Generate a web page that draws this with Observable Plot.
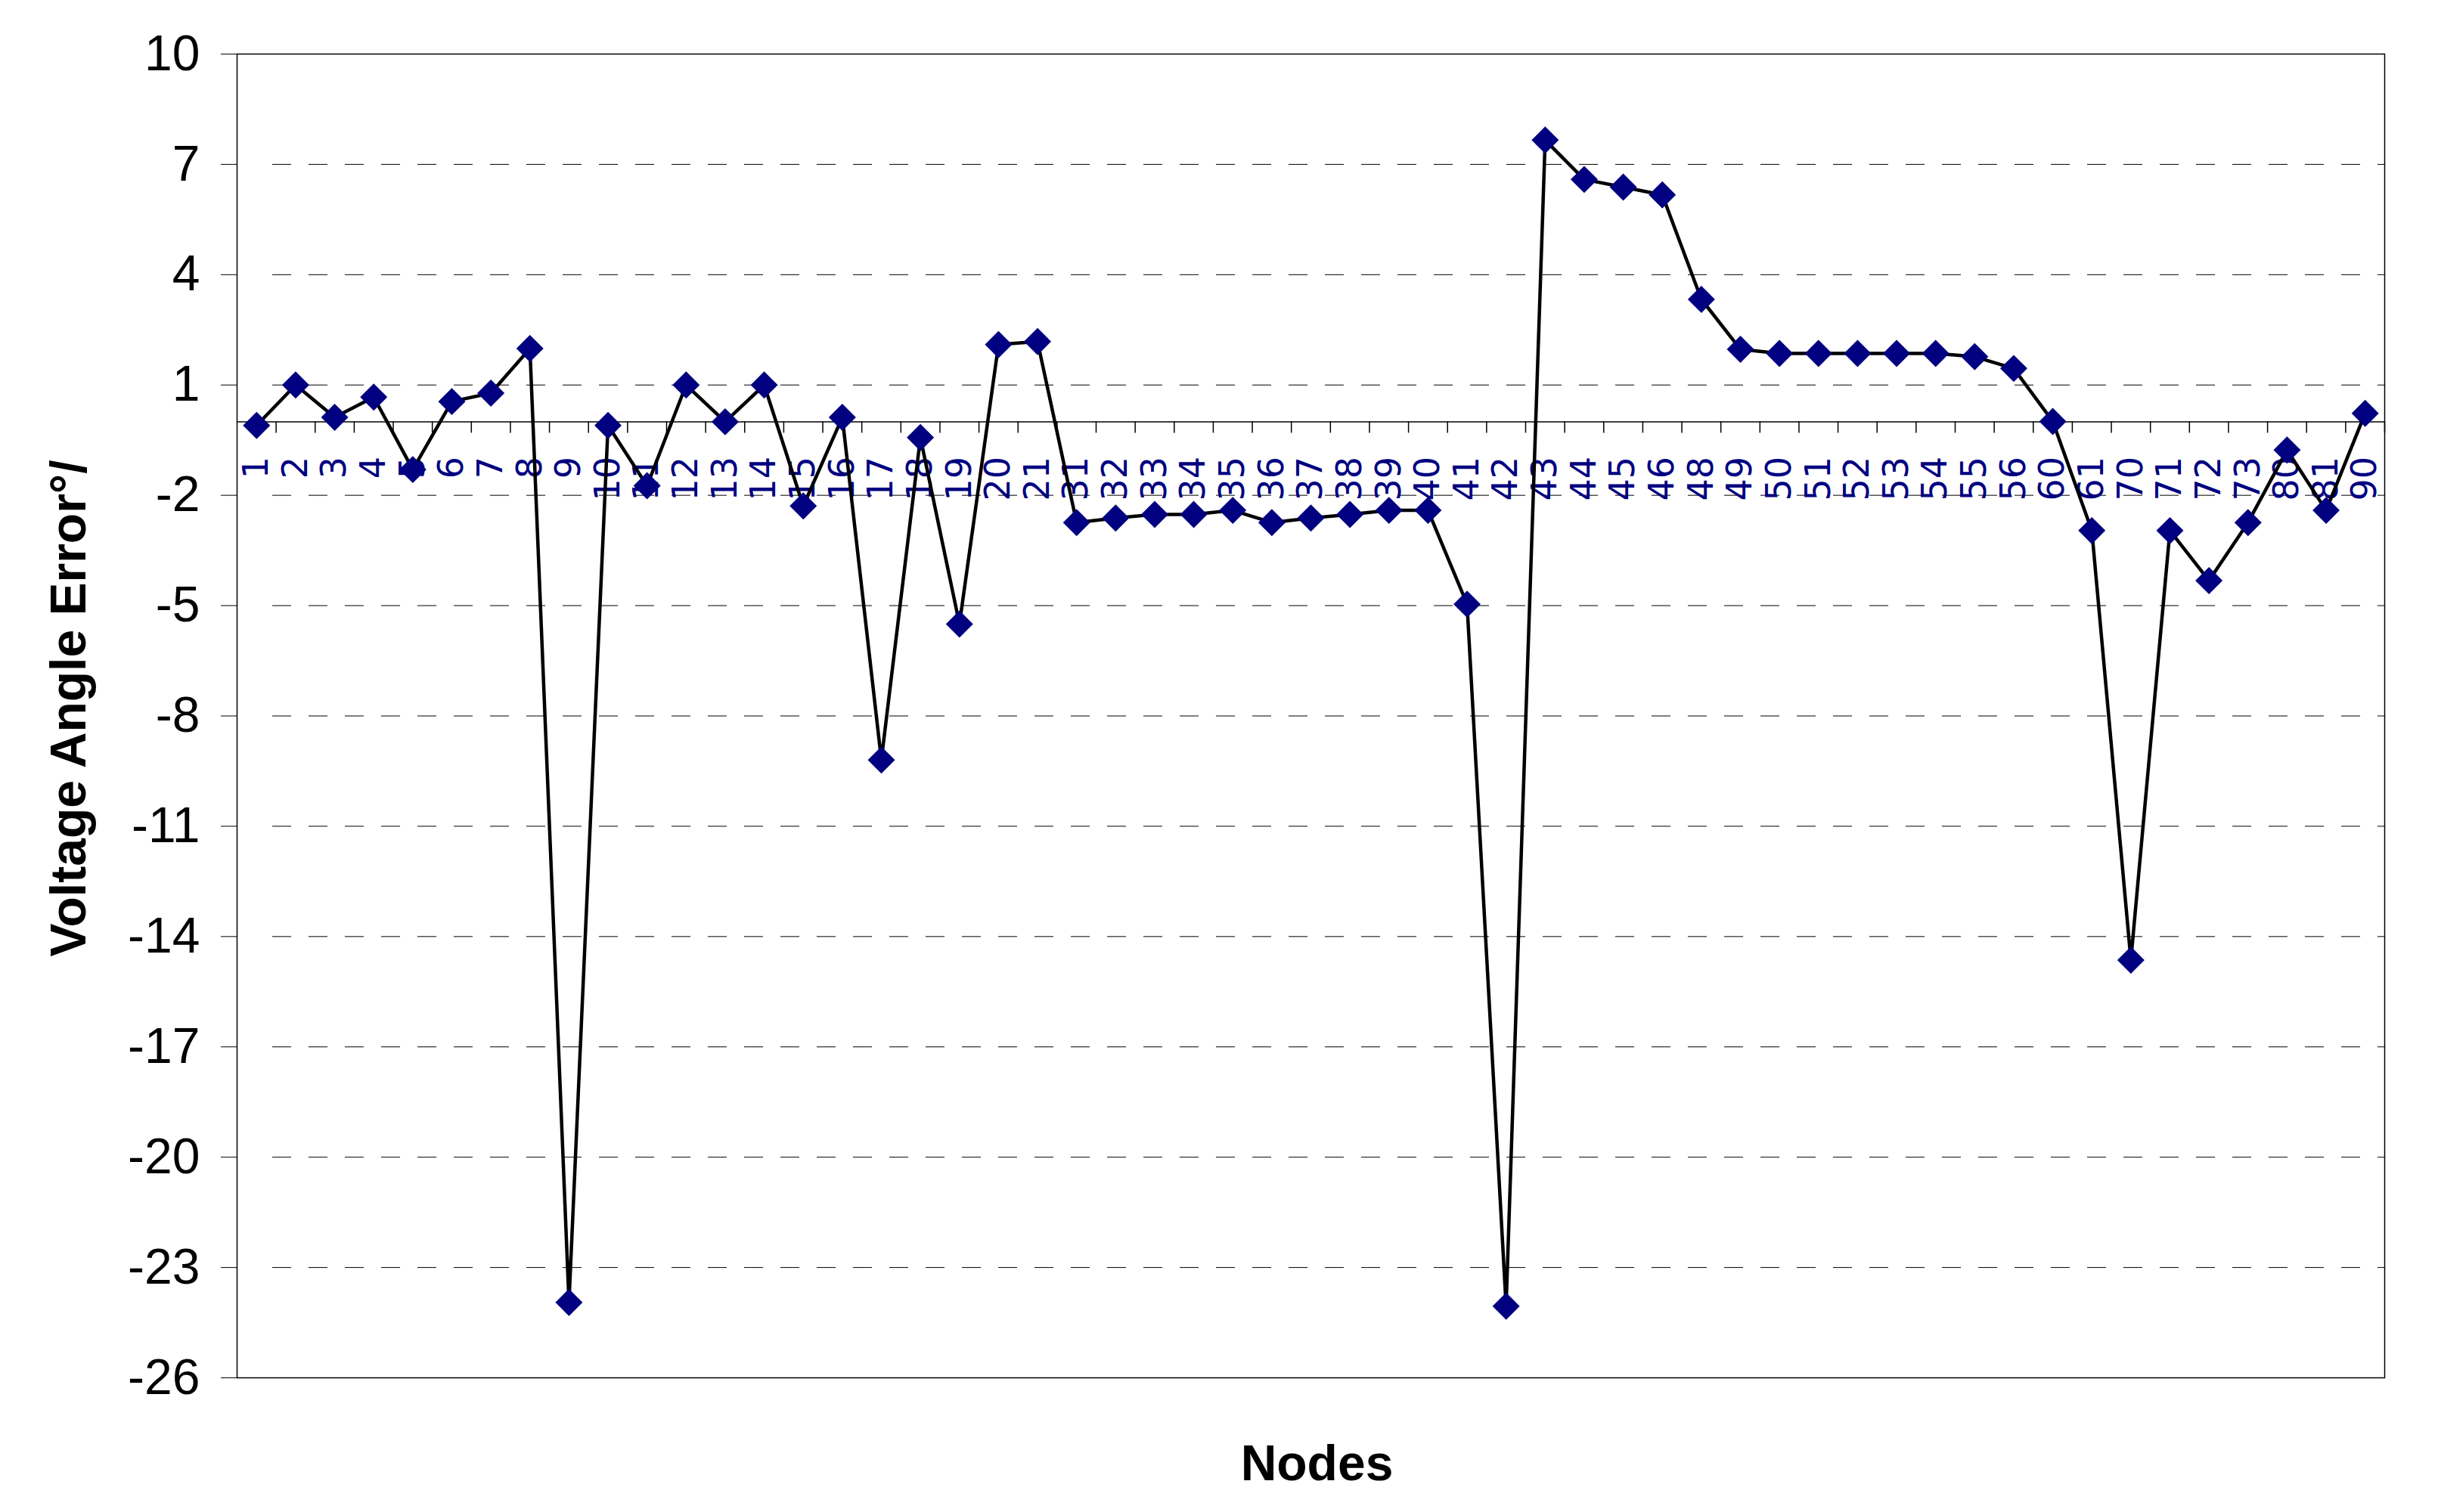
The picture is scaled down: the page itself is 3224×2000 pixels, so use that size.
<!DOCTYPE html>
<html>
<head>
<meta charset="utf-8">
<script src="https://cdn.jsdelivr.net/npm/d3@7"></script>
<script src="https://cdn.jsdelivr.net/npm/@observablehq/plot@0.6"></script>
<style>
  html, body { margin: 0; padding: 0; background: #fff; }
  #chart svg { display: block; }
</style>
</head>
<body>
<div id="chart"></div>
<script>
// Node labels (x categories)
const nodes = ["1","2","3","4","5","6","7","8","9","10","11","12","13","14","15","16","17","18","19","20","21",
  "31","32","33","34","35","36","37","38","39","40","41","42","43","44","45","46","48","49","50","51","52","53","54","55","56",
  "60","61","70","71","72","73","80","81","90"];
// Voltage angle error values (%), one per node
const errors = [-0.1, 1.0, 0.12, 0.67, -1.3, 0.55, 0.78, 1.99, -23.95, -0.1, -1.74, 1.0, 0.0, 1.0, -2.29, 0.12, -9.2, -0.43, -5.5, 2.1, 2.18,
  -2.74, -2.62, -2.52, -2.52, -2.41, -2.74, -2.62, -2.52, -2.41, -2.41, -4.96, -24.05, 7.66, 6.59, 6.38, 6.17, 3.33, 1.97, 1.86, 1.86, 1.86, 1.86, 1.86, 1.77, 1.45,
  0.01, -2.96, -14.64, -2.96, -4.32, -2.74, -0.77, -2.41, 0.23];
// Y axis ticks
const yTicks = [-26, -23, -20, -17, -14, -11, -8, -5, -2, 1, 4, 7, 10];
const yGrid = yTicks.slice(1, -1);
const yTitle = "Voltage Angle Error°/";
const xTitle = "Nodes";

const data = nodes.map((n, i) => ({node: n, value: errors[i]}));

const W = 3224, H = 2000;
const ML = 313, MR = 71, MT = 71, MB = 178;
const halfStep = (W - ML - MR) / nodes.length / 2;
const navy = "#000080";

const chart = Plot.plot({
  width: W,
  height: H,
  marginLeft: ML,
  marginRight: MR,
  marginTop: MT,
  marginBottom: MB,
  style: {fontFamily: "'Liberation Sans', Arial, sans-serif", fontSize: "66px", color: "#000", background: "#fff"},
  x: {type: "point", domain: nodes, padding: 0.5, axis: null},
  y: {domain: [-26, 10], ticks: yTicks, tickSize: 21, tickPadding: 28, label: null, tickFormat: d => String(d)},
  marks: [
    Plot.ruleY(yGrid, {stroke: "#000", strokeWidth: 1, strokeDasharray: "25,23", insetLeft: 47}),
    Plot.ruleY([0], {stroke: "#000", strokeWidth: 1.5}),
    Plot.ruleX(nodes, {x: d => d, y1: () => 0, y2: () => 0, dx: halfStep, insetBottom: -15, stroke: "#000", strokeWidth: 1.5}),
    Plot.text(nodes, {x: d => d, y: () => 0, text: d => d, rotate: -90, textAnchor: "end", dy: 46,
      fill: navy, fontSize: 46, fontFamily: "'DejaVu Sans', sans-serif", ariaLabel: "xlabels"}),
    Plot.frame({stroke: "#000", strokeWidth: 1.5}),
    Plot.line(data, {x: "node", y: "value", stroke: "#000", strokeWidth: 4.5}),
    Plot.dot(data, {x: "node", y: "value", symbol: "diamond2", r: 16.2, fill: navy, stroke: "none"}),
    Plot.text([yTitle], {frameAnchor: "left", textAnchor: "middle", rotate: -90, dx: -222, dy: -10, fontSize: 66, fontWeight: "bold", fill: "#000"}),
    Plot.text([xTitle], {frameAnchor: "bottom", lineAnchor: "middle", dx: 8, dy: 114, fontSize: 66, fontWeight: "bold", fill: "#000"})
  ]
});

d3.select(chart).selectAll('g[aria-label="xlabels"] text')
  .style("font-family", "'DejaVu Sans', sans-serif")
  .style("font-size", "46px")
  .style("letter-spacing", "8px");
document.getElementById("chart").appendChild(chart);
</script>
</body>
</html>
